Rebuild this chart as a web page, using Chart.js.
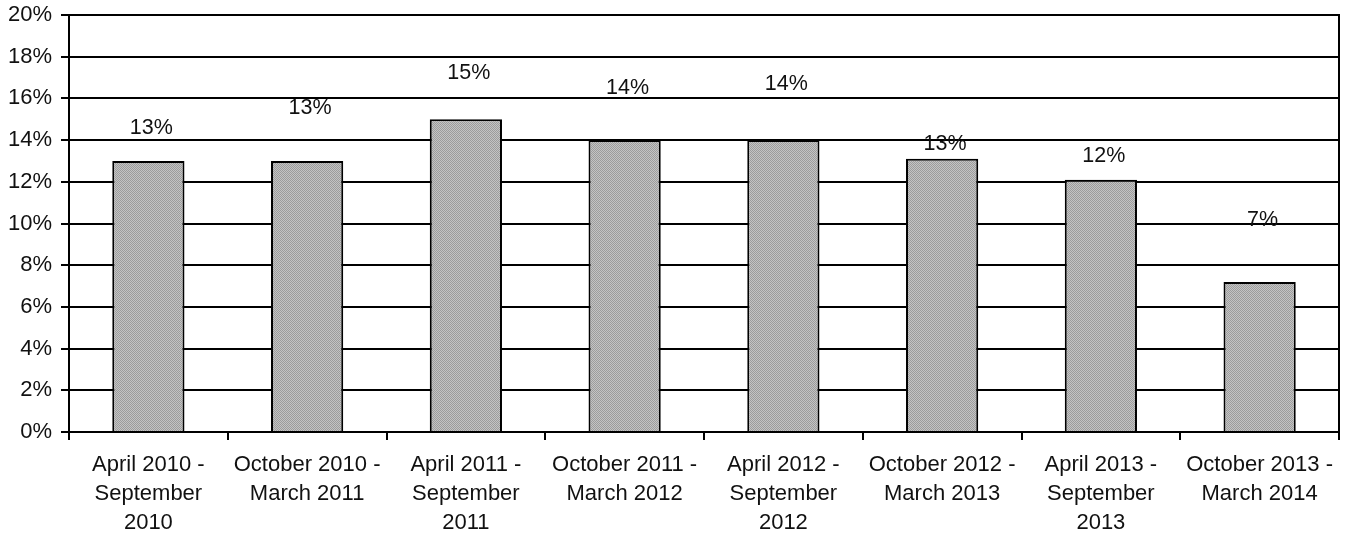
<!DOCTYPE html>
<html>
<head>
<meta charset="utf-8">
<script src="https://cdn.jsdelivr.net/npm/chart.js@4.4.1/dist/chart.umd.min.js"></script>
<style>
  html, body { margin: 0; padding: 0; background: #fff; }
  #wrap { width: 1346px; height: 533px; position: relative; }
</style>
</head>
<body>
<div id="wrap"><canvas id="chart"></canvas></div>
<script>
// periods, one per bar (split onto lines as in the source)
var periods = [
    ["April 2010 -", "September", "2010"],
    ["October 2010 -", "March 2011"],
    ["April 2011 -", "September", "2011"],
    ["October 2011 -", "March 2012"],
    ["April 2012 -", "September", "2012"],
    ["October 2012 -", "March 2013"],
    ["April 2013 -", "September", "2013"],
    ["October 2013 -", "March 2014"]
];
var shares = [13, 13, 15, 14, 14, 13.1, 12.1, 7.2];
var shareLabels = ["13%", "13%", "15%", "14%", "14%", "13%", "12%", "7%"];
var yTicks = [0, 2, 4, 6, 8, 10, 12, 14, 16, 18, 20];

// how far above each bar top its value label sits (px), as in the source
var labelLift = [33, 53, 46, 52, 56, 15, 24, 62];

// stippled grey fill like the printed original
function stipple() {
    var c = document.createElement("canvas");
    c.width = 2; c.height = 2;
    var g = c.getContext("2d");
    g.fillStyle = "#c4c4c4"; g.fillRect(0, 0, 2, 2);
    g.fillStyle = "#9c9c9c"; g.fillRect(0, 0, 1, 1); g.fillRect(1, 1, 1, 1);
    return g.createPattern(c, "repeat");
}

var valueLabels = {
    id: "valueLabels",
    afterDatasetsDraw: function(chart) {
        var ctx = chart.ctx;
        var meta = chart.getDatasetMeta(0);
        ctx.save();
        ctx.font = "21.5px 'Liberation Sans', Arial, sans-serif";
        ctx.fillStyle = "#111";
        ctx.textAlign = "center";
        ctx.textBaseline = "middle";
        meta.data.forEach(function(bar, i) {
            ctx.fillText(shareLabels[i], bar.x + 3, bar.y - labelLift[i]);
        });
        ctx.restore();
    }
};

var chart = new Chart(document.getElementById("chart"), {
    type: "bar",
    data: {
        labels: periods,
        datasets: [{
            data: shares,
            backgroundColor: stipple(),
            borderColor: "#000",
            borderWidth: 2,
            barPercentage: 0.455,
            categoryPercentage: 1
        }]
    },
    options: {
        animation: false,
        responsive: true,
        maintainAspectRatio: false,
        layout: { padding: { left: 2, right: 7, top: 15, bottom: 0 } },
        plugins: { legend: { display: false }, tooltip: { enabled: false } },
        scales: {
            x: {
                afterFit: function(s) { s.height = 101; },
                grid: { display: true, drawOnChartArea: false, drawTicks: true, tickLength: 8, color: "#000", lineWidth: 2, offset: true },
                border: { display: true, color: "#000", width: 2 },
                ticks: {
                    color: "#111",
                    maxRotation: 0,
                    autoSkip: false,
                    padding: 11,
                    font: { family: "'Liberation Sans', Arial, sans-serif", size: 22, lineHeight: 1.3 }
                }
            },
            y: {
                min: 0,
                max: 20,
                afterFit: function(s) { s.width = 67; s.paddingTop = 0; s.paddingBottom = 0; },
                afterBuildTicks: function(axis) { axis.ticks = yTicks.map(function(v) { return { value: v }; }); },
                grid: { color: "#000", lineWidth: 2, tickLength: 8 },
                border: { display: true, color: "#000", width: 2 },
                ticks: {
                    color: "#111",
                    padding: 9,
                    font: { family: "'Liberation Sans', Arial, sans-serif", size: 22, lineHeight: 1 },
                    callback: function(v) { return v + "%"; }
                }
            },
            yRight: {
                position: "right",
                min: 0,
                max: 20,
                afterFit: function(s) { s.paddingTop = 0; s.paddingBottom = 0; },
                grid: { drawOnChartArea: false, drawTicks: false },
                border: { display: true, color: "#000", width: 2 },
                ticks: { display: false }
            }
        }
    },
    plugins: [valueLabels]
});
</script>
</body>
</html>
